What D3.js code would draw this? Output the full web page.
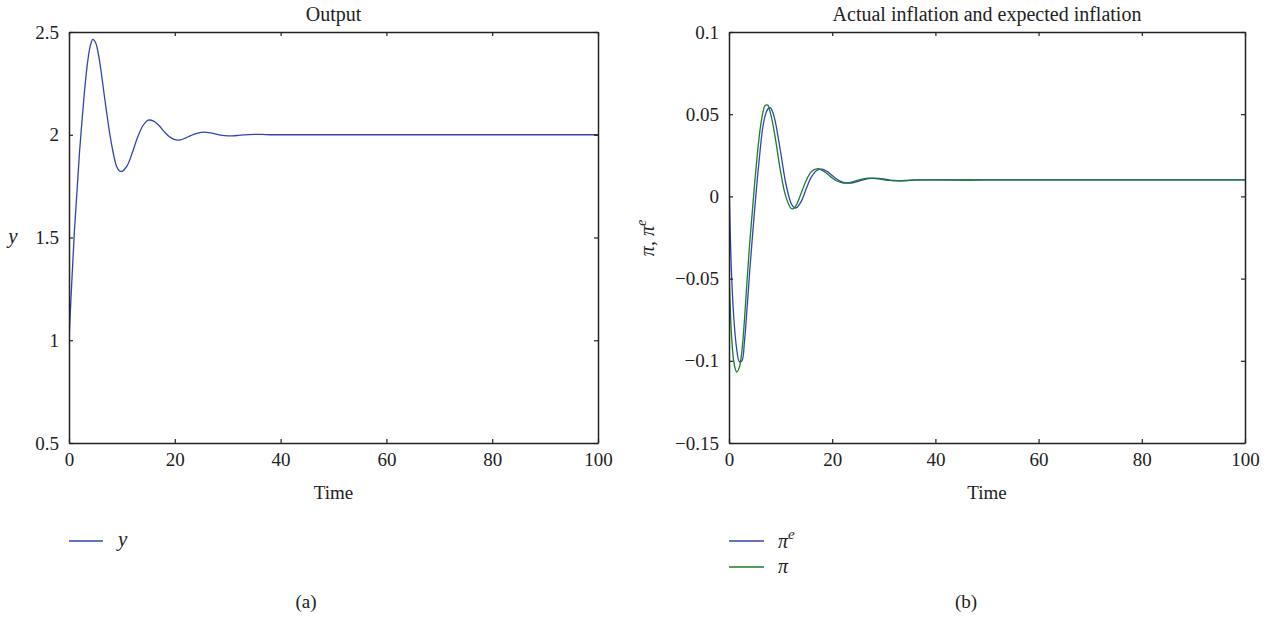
<!DOCTYPE html>
<html>
<head>
<meta charset="utf-8">
<script src="https://cdn.jsdelivr.net/npm/d3@7"></script>
<style>
  html, body { margin: 0; padding: 0; background: #fff; }
  svg text { font-family: "Liberation Serif", "DejaVu Serif", serif; fill: #222; }
</style>
</head>
<body>
<svg id="fig" width="1267" height="618"></svg>
<script>
// ---- data ----
const timeTicks = [0, 20, 40, 60, 80, 100];
const outputTicks = [0.5, 1, 1.5, 2, 2.5];
const inflationTicks = [-0.15, -0.1, -0.05, 0, 0.05, 0.1];

// Output y over time
const outputTime = [0, 0.5, 1, 1.5, 2, 2.5, 3, 3.5, 4, 4.5, 5, 5.5, 6, 7, 8, 9, 9.5, 10, 11, 12, 13, 14, 15, 16, 17, 18, 19, 20, 21, 22, 23, 24, 25, 26, 27, 28, 29, 30, 31, 32, 33, 34, 35, 36, 37, 38, 40, 50, 60, 70, 80, 90, 100];
const outputY = [1.00, 1.27, 1.52, 1.72, 1.92, 2.08, 2.23, 2.35, 2.43, 2.464, 2.45, 2.40, 2.32, 2.13, 1.96, 1.845, 1.825, 1.822, 1.85, 1.915, 1.99, 2.045, 2.071, 2.066, 2.045, 2.015, 1.99, 1.976, 1.975, 1.984, 1.996, 2.006, 2.012, 2.012, 2.008, 2.002, 1.997, 1.995, 1.995, 1.997, 1.999, 2.001, 2.002, 2.002, 2.001, 2.000, 2.000, 2.000, 2.000, 2.000, 2.000, 2.000, 2.000];

// Inflation series over time
const inflationTime = [0, 0.5, 1, 1.5, 2, 2.5, 3, 3.5, 4, 4.5, 5, 5.5, 6, 6.5, 7, 7.5, 8, 8.5, 9, 10, 11, 12, 12.5, 13, 14, 15, 16, 17, 18, 19, 20, 21, 22, 23, 24, 25, 26, 27, 28, 29, 30, 31, 32, 33, 34, 35, 36, 38, 40, 50, 60, 70, 80, 90, 100];
const expectedInflation = [0.010, -0.048, -0.077, -0.093, -0.1005, -0.100, -0.088, -0.068, -0.046, -0.026, -0.007, 0.011, 0.027, 0.041, 0.049, 0.053, 0.054, 0.051, 0.045, 0.027, 0.008, -0.004, -0.0065, -0.007, -0.003, 0.005, 0.012, 0.0158, 0.0166, 0.0152, 0.0127, 0.0103, 0.0087, 0.0081, 0.0083, 0.0091, 0.0101, 0.0108, 0.0111, 0.0110, 0.0106, 0.0101, 0.0097, 0.0095, 0.0095, 0.0097, 0.0099, 0.0101, 0.0100, 0.0100, 0.0100, 0.0100, 0.0100, 0.0100, 0.0100];
const actualInflation = [-0.045, -0.085, -0.102, -0.1068, -0.104, -0.094, -0.075, -0.051, -0.029, -0.010, 0.009, 0.026, 0.040, 0.050, 0.0553, 0.0555, 0.051, 0.044, 0.035, 0.015, 0.000, -0.0072, -0.0075, -0.0055, 0.002, 0.010, 0.0152, 0.0168, 0.0160, 0.0138, 0.0112, 0.0092, 0.0082, 0.0082, 0.0089, 0.0099, 0.0107, 0.0111, 0.0110, 0.0106, 0.0101, 0.0097, 0.0095, 0.0095, 0.0097, 0.0099, 0.0100, 0.0101, 0.0100, 0.0100, 0.0100, 0.0100, 0.0100, 0.0100, 0.0100];

// ---- drawing ----
const BLUE = "#2f45ad";
const GREEN = "#1b7d2c";
const AXIS = "#222";
const SERIF = "'Liberation Serif', 'DejaVu Serif', serif";
const FS = 19;

const svg = d3.select("#fig");
const fmt = v => (v < 0 ? "\u2212" : "") + String(Math.abs(v));

function panel(opts) {
  const { left, right, top, bottom, yDomain, yTicks, title, caption, clipId } = opts;
  const x = d3.scaleLinear().domain([0, 100]).range([left, right]);
  const y = d3.scaleLinear().domain(yDomain).range([bottom, top]);
  const g = svg.append("g");

  g.append("clipPath").attr("id", clipId)
    .append("rect").attr("x", left).attr("y", top)
    .attr("width", right - left).attr("height", bottom - top);

  // series
  const plot = g.append("g").attr("clip-path", `url(#${clipId})`);
  opts.series.forEach(s => {
    const line = d3.line()
      .x((d, i) => x(s.t[i]))
      .y(d => y(d))
      .curve(d3.curveCatmullRom.alpha(0.5));
    plot.append("path").datum(s.v)
      .attr("d", line)
      .attr("fill", "none")
      .attr("stroke", s.color)
      .attr("stroke-width", 1.3);
  });

  // axes with inward ticks on all four sides
  const styleAxis = sel => {
    sel.attr("font-family", SERIF).attr("font-size", FS);
    sel.selectAll("path.domain").attr("stroke", AXIS).attr("stroke-width", 1.5);
    sel.selectAll(".tick line").attr("stroke", AXIS).attr("stroke-width", 1.2);
    sel.selectAll(".tick text").attr("fill", "#222").attr("font-family", SERIF);
  };
  g.append("g").attr("transform", `translate(0,${bottom})`)
    .call(d3.axisBottom(x).tickValues(timeTicks).tickFormat(fmt).tickSizeInner(-4).tickSizeOuter(0).tickPadding(10))
    .call(styleAxis);
  g.append("g").attr("transform", `translate(0,${top})`)
    .call(d3.axisTop(x).tickValues(timeTicks).tickFormat("").tickSizeInner(-4).tickSizeOuter(0))
    .call(styleAxis);
  g.append("g").attr("transform", `translate(${left},0)`)
    .call(d3.axisLeft(y).tickValues(yTicks).tickFormat(fmt).tickSizeInner(-4).tickSizeOuter(0).tickPadding(10))
    .call(styleAxis);
  g.append("g").attr("transform", `translate(${right},0)`)
    .call(d3.axisRight(y).tickValues(yTicks).tickFormat("").tickSizeInner(-4).tickSizeOuter(0))
    .call(styleAxis);

  // title, x label, caption
  const cx = (left + right) / 2;
  g.append("text").attr("x", cx).attr("y", 21).attr("text-anchor", "middle")
    .attr("font-size", 20).text(title);
  g.append("text").attr("x", cx).attr("y", 499).attr("text-anchor", "middle")
    .attr("font-size", FS).text("Time");
  g.append("text").attr("x", opts.captionX).attr("y", 608).attr("text-anchor", "middle")
    .attr("font-size", FS).text(caption);

  return { g, x, y };
}

// (a) Output
const a = panel({
  left: 69, right: 598, top: 32, bottom: 443,
  yDomain: [0.5, 2.5], yTicks: outputTicks,
  title: "Output", caption: "(a)", captionX: 306, clipId: "clipA",
  series: [{ t: outputTime, v: outputY, color: BLUE }]
});
a.g.append("text").attr("x", 13).attr("y", 243).attr("text-anchor", "middle")
  .attr("font-size", FS + 2).attr("font-style", "italic").text("y");
// legend (a)
a.g.append("line").attr("x1", 69).attr("x2", 103).attr("y1", 541).attr("y2", 541)
  .attr("stroke", BLUE).attr("stroke-width", 1.3);
a.g.append("text").attr("x", 118).attr("y", 546).attr("font-size", FS + 2)
  .attr("font-style", "italic").text("y");

// (b) Actual inflation and expected inflation
const b = panel({
  left: 729, right: 1245, top: 32, bottom: 443,
  yDomain: [-0.15, 0.1], yTicks: inflationTicks,
  title: "Actual inflation and expected inflation", caption: "(b)", captionX: 966, clipId: "clipB",
  series: [
    { t: inflationTime, v: expectedInflation, color: BLUE },
    { t: inflationTime, v: actualInflation, color: GREEN }
  ]
});
const yl = b.g.append("text")
  .attr("transform", "translate(654,238) rotate(-90)")
  .attr("text-anchor", "middle").attr("font-size", FS + 1).attr("font-style", "italic");
yl.append("tspan").text("\u03c0, \u03c0");
yl.append("tspan").attr("dy", -8).attr("font-size", FS - 5).text("e");

// legend (b)
b.g.append("line").attr("x1", 729).attr("x2", 764).attr("y1", 541).attr("y2", 541)
  .attr("stroke", BLUE).attr("stroke-width", 1.3);
const l1 = b.g.append("text").attr("x", 778).attr("y", 548).attr("font-size", FS + 1).attr("font-style", "italic");
l1.append("tspan").text("\u03c0");
l1.append("tspan").attr("dy", -9).attr("font-size", FS - 4).text("e");
b.g.append("line").attr("x1", 729).attr("x2", 764).attr("y1", 567).attr("y2", 567)
  .attr("stroke", GREEN).attr("stroke-width", 1.3);
b.g.append("text").attr("x", 778).attr("y", 573).attr("font-size", FS + 1)
  .attr("font-style", "italic").text("\u03c0");
</script>
</body>
</html>
